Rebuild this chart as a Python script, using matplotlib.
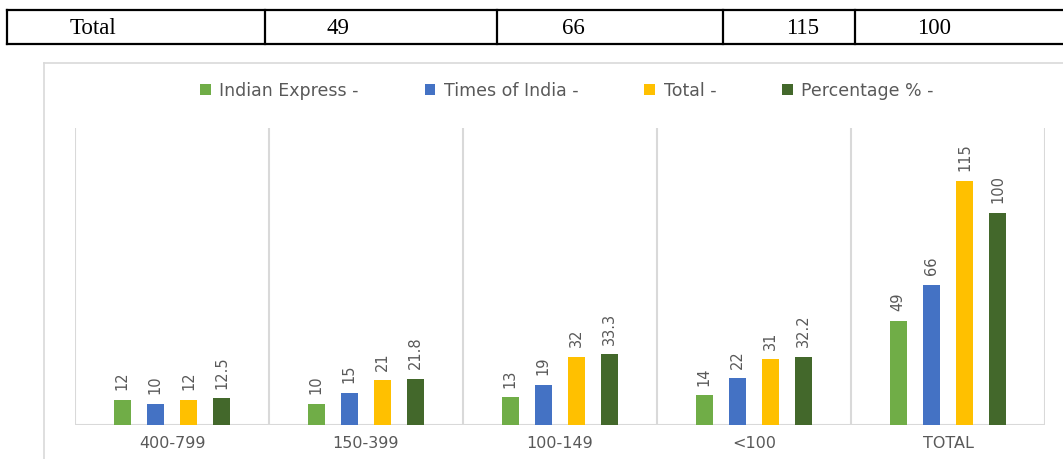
import numpy as np
import matplotlib.pyplot as plt
from matplotlib.patches import Patch

# --- data ---
categories = ["400-799", "150-399", "100-149", "<100", "TOTAL"]
indian_express = [12, 10, 13, 14, 49]
times_of_india = [10, 15, 19, 22, 66]
total = [12, 21, 32, 31, 115]
percentage = [12.5, 21.8, 33.3, 32.2, 100]
value_labels = [
    ["12", "10", "13", "14", "49"],
    ["10", "15", "19", "22", "66"],
    ["12", "21", "32", "31", "115"],
    ["12.5", "21.8", "33.3", "32.2", "100"],
]
series_names = ["Indian Express -", "Times of India -", "Total -", "Percentage % -"]
table_row = ["Total", "49", "66", "115", "100"]

colors = ["#70AD47", "#4472C4", "#FFC000", "#43682B"]
GRID = "#D9D9D9"
TXT = "#595959"

W, H = 1063, 459
fig = plt.figure(figsize=(W / 100, H / 100), dpi=100)

# --- background layer in pixel coords: table row on top + chart frame ---
bg = fig.add_axes([0, 0, 1, 1])
bg.set_xlim(0, W)
bg.set_ylim(H, 0)
bg.axis("off")

top, bot = 10, 44
bg.plot([7, W], [top, top], color="black", lw=1.6)
bg.plot([7, W], [bot, bot], color="black", lw=1.6)
for xc in [7, 265, 497, 723, 855]:
    bg.plot([xc, xc], [top, bot], color="black", lw=1.6)
text_x = [70, 338, 573, 803, 934]
for i, (tx, s) in enumerate(zip(text_x, table_row)):
    bg.text(tx, (top + bot) / 2 + 1, s, ha="left" if i == 0 else "center", va="center",
            fontsize=16.5, family="Liberation Serif", color="black")

# chart frame
bg.plot([44, W], [63, 63], color=GRID, lw=1.2)
bg.plot([44, 44], [63, H], color=GRID, lw=1.2)

# --- bar chart ---
ax = fig.add_axes([75 / W, 34 / H, (1045 - 75) / W, 297 / H])
ax.set_facecolor("none")
x = np.arange(len(categories))
series = [indian_express, times_of_india, total, percentage]
step = 0.171
bw = 0.09
for k, (vals, c) in enumerate(zip(series, colors)):
    pos = x + (k - 1.5) * step
    ax.bar(pos, vals, width=bw, color=c, zorder=3)
    for p, v, s in zip(pos, vals, value_labels[k]):
        ax.annotate(s, (p, v), xytext=(0, 7), textcoords="offset points",
                    rotation=90, ha="center", va="bottom", fontsize=10.5, color=TXT)

ax.set_xlim(-0.5, len(categories) - 0.5)
ax.set_ylim(0, 140)
for b in np.arange(-0.5, len(categories), 1.0):
    ax.axvline(b, color=GRID, lw=1.5, zorder=1)
ax.axhline(0, color=GRID, lw=1.5, zorder=2)
for s in ax.spines.values():
    s.set_visible(False)
ax.set_yticks([])
ax.set_xticks(x)
ax.set_xticklabels(categories, fontsize=11.5, color=TXT)
ax.tick_params(axis="x", length=0, pad=8)

handles = [Patch(facecolor=c) for c in colors]
fig.legend(handles, series_names, loc="center", bbox_to_anchor=(567 / W, 1 - 91 / H),
           ncol=4, frameon=False, fontsize=12.5, labelcolor=TXT,
           handlelength=0.6, handleheight=0.6, handletextpad=0.5, columnspacing=3.8)

fig.savefig("out.png", dpi=100)
